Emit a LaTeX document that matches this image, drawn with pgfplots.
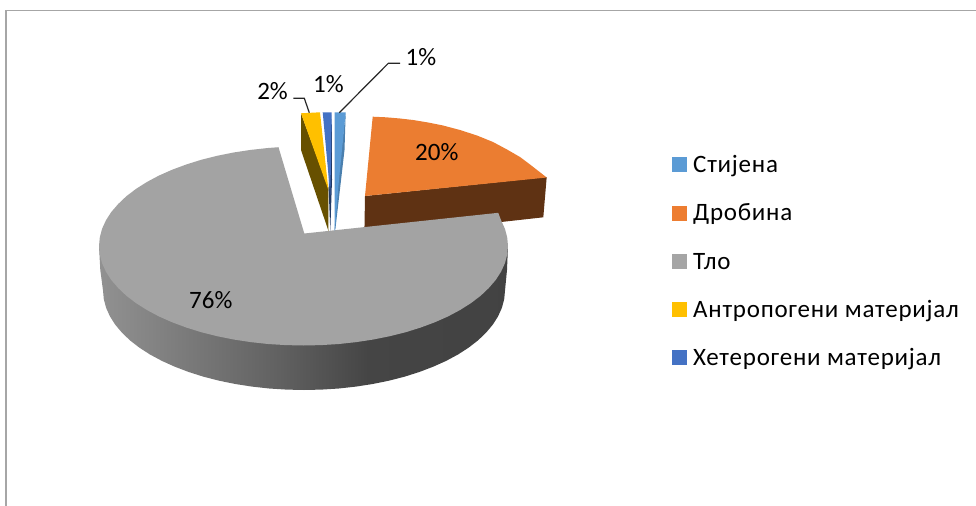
\documentclass[border=0pt]{standalone}
\usepackage{pgfplots}
\pgfplotsset{compat=1.18}
\usepackage{fontspec}
\setmainfont{Carlito}
\newfontfamily\legfont[LetterSpace=3]{Carlito}
\definecolor{c1}{gray}{0.57}
\definecolor{c2}{gray}{0.52}
\definecolor{c3}{gray}{0.38}
\definecolor{c4}{gray}{0.27}
\definecolor{c5}{gray}{0.26}
\definecolor{greytop}{HTML}{A3A3A3}
\definecolor{greyleg}{HTML}{A5A5A5}
\definecolor{orangetop}{HTML}{EB7D31}
\definecolor{orangeleg}{HTML}{ED7D31}
\definecolor{orangeside}{HTML}{5F3213}
\definecolor{yellowtop}{HTML}{FFC000}
\definecolor{yellowside}{HTML}{675000}
\definecolor{bluetop}{HTML}{4472C4}
\definecolor{blueside}{HTML}{203864}
\definecolor{lbluetop}{HTML}{5B9BD5}
\definecolor{lblueside}{HTML}{4A7FAE}
\definecolor{framec}{HTML}{A6A6A6}
\definecolor{leader}{HTML}{262626}
\pgfdeclarehorizontalshading{band}{100bp}{color(0bp)=(c1);color(25bp)=(c1);color(31bp)=(c2);color(47bp)=(c3);color(58bp)=(c4);color(75bp)=(c5);color(100bp)=(c5)}
\begin{document}
\begin{tikzpicture}
\path[use as bounding box] (0,0) rectangle (976bp,506bp);
\begin{axis}[at={(0,0)},anchor=south west,width=976bp,height=506bp,scale only axis,
  xmin=0,xmax=976,ymin=0,ymax=506,y dir=reverse,hide axis,clip=false]
% frame
\addplot[framec,line width=1.4bp,forget plot] coordinates {(5.8,506) (5.8,10.5) (976,10.5)};
% orange slice side and top
\addplot[draw=none,fill=orangeside,forget plot] coordinates {(365,196) (546.7,177) (543.3,217.3) (364.3,237.3)};
\addplot[draw=none,fill=orangetop,forget plot] coordinates {(365,196) (372.7,116.7) (386,117.3) (400,118.5) (413,120) (427,122.3) (443,125.5) (460,130) (477,135.5) (493,142) (507,149.5) (520,157) (530,164.5) (539,171.5) (546.7,177.5)};
% grey slice side
\addplot[draw=none,shading=band,forget plot] coordinates {(99,246) (100.3,270) (103,290.5) (103.8,299.2) (106.1,307.8) (109.9,316.3) (115.1,324.5) (121.8,332.5) (129.9,340.3) (139.3,347.6) (150,354.5) (161.9,360.9) (174.8,366.7) (188.7,372) (203.5,376.7) (219.1,380.7) (235.3,384) (252,386.6) (269.1,388.5) (286.5,389.6) (304,390) (321.5,389.6) (338.9,388.5) (356,386.6) (372.7,384) (388.9,380.7) (404.5,376.7) (419.3,372) (433.2,366.7) (446.1,360.9) (458,354.5) (468.7,347.6) (478.1,340.3) (486.2,332.5) (492.9,324.5) (498.1,316.3) (501.9,307.8) (504.2,299.2) (505,290.5) (507,270) (508,246)};
% grey slice top
\addplot[draw=none,fill=greytop,forget plot] coordinates {(304.3,233.5) (278.5,147.2) (268,148) (250.6,149.9) (233.6,152.5) (217.1,155.8) (201.2,159.8) (186.2,164.5) (172,169.8) (158.9,175.6) (146.9,182) (136,188.9) (126.4,196.2) (118.2,204) (111.3,212) (106,220.2) (102.1,228.7) (99.8,237.3) (99,246) (99.8,254.7) (102.1,263.3) (106,271.8) (111.3,280) (118.2,288) (126.4,295.8) (136,303.1) (146.9,310) (158.9,316.4) (172,322.2) (186.2,327.5) (201.2,332.2) (217.1,336.2) (233.6,339.5) (250.6,342.1) (268,344) (285.7,345.1) (303.5,345.5) (321.3,345.1) (339,344) (356.4,342.1) (373.4,339.5) (389.9,336.2) (405.8,332.2) (420.8,327.5) (435,322.2) (448.1,316.4) (460.1,310) (471,303.1) (480.6,295.8) (488.8,288) (495.7,280) (501,271.8) (504.9,263.3) (507.2,254.7) (508,246) (507.2,237.3) (504.9,228.7) (501,220.2) (498.3,212.8)};
% yellow slice
\addplot[draw=none,fill=yellowside,forget plot] coordinates {(301,113.3) (328.3,188) (328.5,231) (301,150)};
\addplot[draw=none,fill=yellowtop,forget plot] coordinates {(301,113.3) (320,112.3) (328.4,190)};
% dark blue slice
\addplot[draw=none,fill=blueside,forget plot] coordinates {(331.7,115) (332,180) (330.3,231) (328.7,190) (329,170)};
\addplot[draw=none,fill=bluetop,forget plot] coordinates {(322.7,112.3) (331.7,112.3) (331.3,150) (330.3,195)};
% light blue slice
\addplot[draw=none,fill=lblueside,forget plot] coordinates {(345.7,112.3) (344.5,150) (335.5,228) (334.5,231) (338,180)};
\addplot[draw=none,fill=lbluetop,forget plot] coordinates {(334.7,112.3) (345.7,112.3) (338.5,185) (335,230) (334.5,230)};
% leaders
\addplot[leader,line width=1.2bp,forget plot] coordinates {(293.3,98.3) (304.3,98.3) (309.3,112.7)};
\addplot[leader,line width=1.2bp,forget plot] coordinates {(400,63.3) (388.3,63.3) (339.3,112.7)};
% legend keys
\addplot[draw=none,fill=lbluetop,forget plot] coordinates {(672.3,157.3) (687,157.3) (687,172) (672.3,172)};
\addplot[draw=none,fill=orangeleg,forget plot] coordinates {(672.3,206) (687,206) (687,220.7) (672.3,220.7)};
\addplot[draw=none,fill=greyleg,forget plot] coordinates {(672.3,254) (687,254) (687,268.7) (672.3,268.7)};
\addplot[draw=none,fill=yellowtop,forget plot] coordinates {(672.3,302) (687,302) (687,316.7) (672.3,316.7)};
\addplot[draw=none,fill=bluetop,forget plot] coordinates {(672.3,350) (687,350) (687,364.7) (672.3,364.7)};
% texts
\node[anchor=base west,inner sep=0pt,font=\legfont\fontsize{25bp}{30bp}\selectfont] at (axis cs:693,172) {Стијена};
\node[anchor=base west,inner sep=0pt,font=\legfont\fontsize{25bp}{30bp}\selectfont] at (axis cs:693,220.7) {Дробина};
\node[anchor=base west,inner sep=0pt,font=\legfont\fontsize{25bp}{30bp}\selectfont] at (axis cs:693,269.3) {Тло};
\node[anchor=base west,inner sep=0pt,font=\legfont\fontsize{25bp}{30bp}\selectfont] at (axis cs:693,317.3) {Антропогени материјал};
\node[anchor=base west,inner sep=0pt,font=\legfont\fontsize{25bp}{30bp}\selectfont] at (axis cs:693,365.3) {Хетерогени материјал};
\node[anchor=base west,inner sep=0pt,font=\fontsize{25bp}{30bp}\selectfont] at (axis cs:405.5,66) {1\%};
\node[anchor=base west,inner sep=0pt,font=\fontsize{25bp}{30bp}\selectfont] at (axis cs:313,92) {1\%};
\node[anchor=base east,inner sep=0pt,font=\fontsize{25bp}{30bp}\selectfont] at (axis cs:288,99.3) {2\%};
\node[anchor=base west,inner sep=0pt,font=\fontsize{25bp}{30bp}\selectfont] at (axis cs:415,160) {20\%};
\node[anchor=base west,inner sep=0pt,font=\fontsize{25bp}{30bp}\selectfont] at (axis cs:189,308.3) {76\%};
\end{axis}
\end{tikzpicture}
\end{document}
